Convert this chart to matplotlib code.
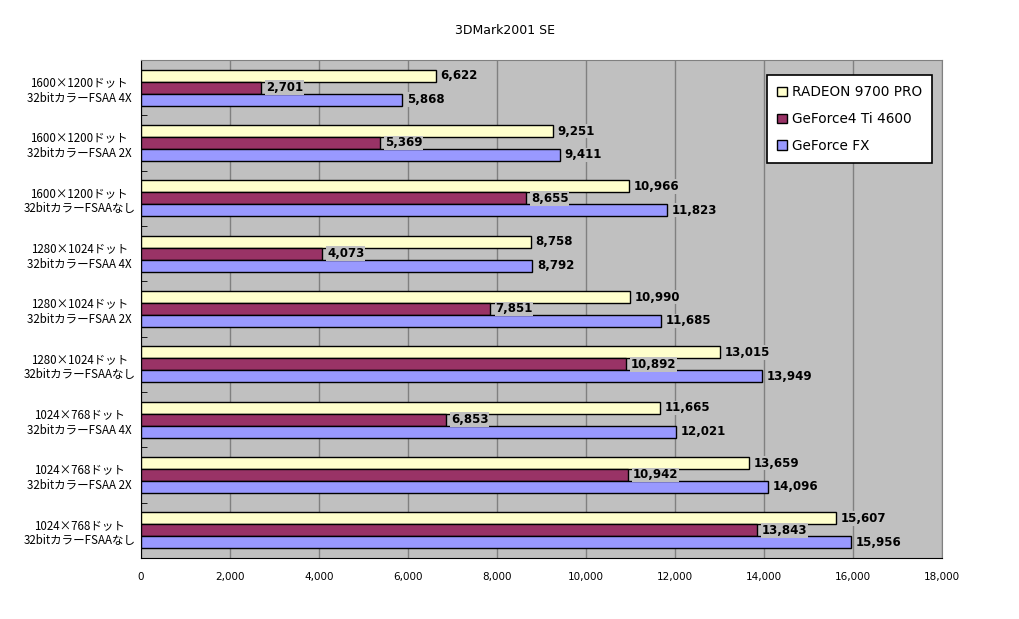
import matplotlib.pyplot as plt
import numpy as np

plt.rcParams['font.family'] = ['Noto Sans CJK JP', 'DejaVu Sans']

# categories, top to bottom as in the chart
categories = [
    "1600×1200ドット\n32bitカラーFSAA 4X",
    "1600×1200ドット\n32bitカラーFSAA 2X",
    "1600×1200ドット\n32bitカラーFSAAなし",
    "1280×1024ドット\n32bitカラーFSAA 4X",
    "1280×1024ドット\n32bitカラーFSAA 2X",
    "1280×1024ドット\n32bitカラーFSAAなし",
    "1024×768ドット\n32bitカラーFSAA 4X",
    "1024×768ドット\n32bitカラーFSAA 2X",
    "1024×768ドット\n32bitカラーFSAAなし",
]
radeon = [6622, 9251, 10966, 8758, 10990, 13015, 11665, 13659, 15607]
gf4 = [2701, 5369, 8655, 4073, 7851, 10892, 6853, 10942, 13843]
gffx = [5868, 9411, 11823, 8792, 11685, 13949, 12021, 14096, 15956]
series_names = ["RADEON 9700 PRO", "GeForce4 Ti 4600", "GeForce FX"]
colors = ["#FFFFCC", "#993366", "#9999FF"]
xticks = np.arange(0, 18001, 2000)

fig = plt.figure(figsize=(10.2, 6.19), dpi=100)
ax = fig.add_axes([141 / 1020, 1 - 558 / 619, 801 / 1020, 498 / 619])
ax.set_facecolor("#C0C0C0")

n = len(categories)
pos = np.arange(n)
h = 0.215
for k, vals in enumerate([radeon, gf4, gffx]):
    y = pos + (k - 1) * h
    ax.barh(y, vals, height=h, color=colors[k], edgecolor="black", linewidth=1.0,
            label=series_names[k], zorder=3)
    for yy, v in zip(y, vals):
        ax.text(v + 110, yy, "{:,}".format(v), va="center", ha="left", fontsize=8.5,
                fontweight="bold", family="DejaVu Sans", zorder=4,
                bbox=dict(facecolor="#C0C0C0", edgecolor="none", pad=0.5))

ax.set_ylim(n - 0.5, -0.5)
ax.set_xlim(0, 18000)
ax.set_yticks(pos)
ax.set_yticklabels(categories, fontsize=8.3, ha="center", linespacing=1.25)
ax.tick_params(axis="y", length=0, pad=44.5)
ax.set_yticks(np.arange(-0.5, n, 1), minor=True)
ax.tick_params(axis="y", which="minor", direction="in", length=4, color="black")
ax.set_xticks(xticks)
ax.set_xticklabels(["{:,}".format(t) for t in xticks], fontsize=7.5, family="DejaVu Sans")
ax.tick_params(axis="x", length=0, pad=10)
ax.grid(axis="x", color="#808080", linewidth=1, zorder=0)
ax.set_axisbelow(True)
for s in ["top", "right"]:
    ax.spines[s].set_color("#808080")
for s in ["left", "bottom"]:
    ax.spines[s].set_color("black")

leg = ax.legend(loc="upper right", bbox_to_anchor=(0.9875, 0.97),
                prop={"family": "DejaVu Sans", "size": 9.8},
                frameon=True, fancybox=False, edgecolor="black", framealpha=1,
                handlelength=0.7, handleheight=0.7, handletextpad=0.35,
                labelspacing=0.95, borderpad=0.75, borderaxespad=0)
leg.get_frame().set_linewidth(1.2)

fig.text(505 / 1020, 1 - 30 / 619, "3DMark2001 SE", ha="center", va="center",
         fontsize=9, family="DejaVu Sans")

fig.savefig("out.png", dpi=100, facecolor="white")
